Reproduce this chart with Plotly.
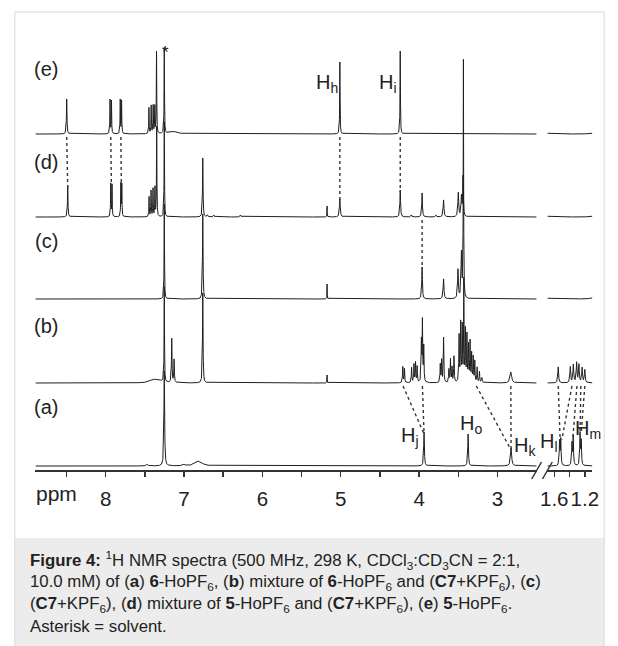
import numpy as np
import plotly.graph_objects as go

W, H = 618, 646
FONT = "Liberation Sans, Arial, sans-serif"
INK = "#1e1e1e"

# ---------------- data: peak lists ----------------
# chemical shift (ppm), intensity (arb.), half width (ppm)
e_ppm = [8.496, 7.943, 7.925, 7.813, 7.796, 7.447, 7.418, 7.393, 7.372, 7.350, 7.251, 7.135, 5.011, 4.241, 1.72, 1.05]
e_int = [35, 34, 33, 34, 33, 26, 28, 28, 27, 82, 86, 2.5, 72, 83, 1.5, 2]
e_wid = [0.004, 0.003, 0.003, 0.003, 0.003, 0.003, 0.003, 0.003, 0.003, 0.003, 0.003, 0.06, 0.003, 0.003, 0.03, 0.04]

d_ppm = [8.483, 7.934, 7.918, 7.805, 7.793, 7.445, 7.42, 7.395, 7.37, 7.348, 7.251, 6.76, 6.70, 6.62, 6.28,
         5.174, 5.011, 4.241, 4.10, 3.962, 3.787, 3.688, 3.50, 3.46, 3.44, 1.72, 1.05]
d_int = [31, 33, 32, 33, 32, 20, 26, 28, 29, 90, 95, 59, 2, 2, 2,
         11, 18, 27, 2, 24, 2, 17, 24, 20, 40, 1.5, 2]
d_wid = [0.004, 0.003, 0.003, 0.003, 0.003, 0.003, 0.003, 0.003, 0.003, 0.003, 0.003, 0.004, 0.006, 0.006, 0.006,
         0.002, 0.006, 0.005, 0.006, 0.005, 0.006, 0.006, 0.006, 0.006, 0.005, 0.03, 0.04]

c_ppm = [7.251, 6.76, 5.174, 3.962, 3.688, 3.504, 3.46, 3.435, 1.72, 1.05]
c_int = [95, 85, 15, 32, 20, 29, 45, 237, 1.5, 3]
c_wid = [0.003, 0.004, 0.002, 0.005, 0.006, 0.006, 0.006, 0.003, 0.03, 0.04]

b_ppm = [7.40, 7.33, 7.251, 7.156, 7.126, 6.76, 5.174,
         4.208, 4.187, 4.096, 4.066, 4.046, 4.025, 3.971, 3.958, 3.941, 3.73, 3.713, 3.688,
         3.62, 3.60, 3.58, 3.555, 3.49, 3.47, 3.45, 3.43, 3.41, 3.39, 3.37, 3.35, 3.33, 3.31,
         3.29, 3.26, 3.23, 3.20, 2.83,
         1.548, 1.39, 1.35, 1.307, 1.277, 1.235, 1.20]
b_int = [2.5, 3, 95, 44, 23, 90, 8,
         16, 14, 15, 18, 20, 16, 40, 60, 35, 18, 22, 45,
         13, 23, 15, 26, 46, 58, 55, 100, 51, 46, 36, 40, 28, 25,
         21, 15, 11, 5, 11,
         16, 16, 18, 20, 18, 15, 13]
b_wid = [0.05, 0.05, 0.003, 0.004, 0.004, 0.004, 0.002,
         0.004, 0.004, 0.004, 0.004, 0.004, 0.004, 0.004, 0.004, 0.004, 0.004, 0.004, 0.004,
         0.004, 0.004, 0.004, 0.004, 0.004, 0.004, 0.004, 0.003, 0.004, 0.004, 0.004, 0.004, 0.004, 0.004,
         0.004, 0.004, 0.004, 0.006, 0.012,
         0.006, 0.006, 0.006, 0.006, 0.006, 0.006, 0.006]

a_ppm = [7.47, 7.251, 7.00, 6.81, 3.937, 3.375, 2.827, 1.530, 1.515, 1.368, 1.352, 1.262, 1.247]
a_int = [2, 95, 1.5, 5, 34, 32, 18, 24, 26, 22, 29, 32, 24]
a_wid = [0.01, 0.005, 0.02, 0.05, 0.005, 0.005, 0.009, 0.005, 0.005, 0.005, 0.005, 0.005, 0.005]

labels = ["(a)", "(b)", "(c)", "(d)", "(e)"]
spectra = {
    "a": (a_ppm, a_int, a_wid),
    "b": (b_ppm, b_int, b_wid),
    "c": (c_ppm, c_int, c_wid),
    "d": (d_ppm, d_int, d_wid),
    "e": (e_ppm, e_int, e_wid),
}
# dotted correlations: (upper spectrum, ppm there, lower spectrum, ppm there)
links = [
    ("e", 8.496, "d", 8.483), ("e", 7.934, "d", 7.926), ("e", 7.805, "d", 7.799),
    ("e", 5.011, "d", 5.011), ("e", 4.241, "d", 4.241),
    ("d", 3.962, "c", 3.962),
    ("b", 4.205, "a", 3.937), ("b", 3.958, "a", 3.937), ("b", 3.27, "a", 2.827), ("b", 2.83, "a", 2.827),
    ("b", 1.548, "a", 1.523), ("b", 1.368, "a", 1.50), ("b", 1.303, "a", 1.355),
    ("b", 1.252, "a", 1.262), ("b", 1.20, "a", 1.247),
]
major_left = [8, 7, 6, 5, 4, 3]
minor_left = [8.5, 7.5, 6.5, 5.5, 4.5, 3.5]
ticks_right = [1.6, 1.4, 1.2]
ticktext_right = ["1.6", "", "1.2"]

# ---------------- layout constants ----------------
offset = {"a": 4, "b": 87, "c": 171, "d": 253, "e": 336}
LEFT_RANGE = [8.8955, 2.501]
RIGHT_RANGE = [1.69, 1.10]


def px(x):
    return x / W


def py(y):
    return 1 - y / H


def curve(ppms, ints, wids, grid):
    y = np.zeros_like(grid)
    for p, h, w in zip(ppms, ints, wids):
        y += h * w ** 2 / ((grid - p) ** 2 + w ** 2)
    return y


grid_l = np.arange(LEFT_RANGE[1], LEFT_RANGE[0], 0.001)
grid_r = np.arange(RIGHT_RANGE[1], RIGHT_RANGE[0], 0.001)

fig = go.Figure()
for key, (pp, ii, ww) in spectra.items():
    for grid, xa in ((grid_l, "x"), (grid_r, "x2")):
        fig.add_trace(go.Scatter(x=grid, y=curve(pp, ii, ww, grid) + offset[key], xaxis=xa, yaxis="y",
                                 mode="lines", line=dict(color=INK, width=1), hoverinfo="skip",
                                 showlegend=False))

for up, p_up, lo, p_lo in links:
    pp, ii, ww = spectra[lo]
    win = np.linspace(p_lo - 0.015, p_lo + 0.015, 61)
    top = curve(pp, ii, ww, win).max() + offset[lo] - 2
    xa = "x2" if p_up < 2 else "x"
    fig.add_trace(go.Scatter(x=[p_up, p_lo], y=[offset[up] - 3, top], xaxis=xa, yaxis="y",
                             mode="lines", line=dict(color="#333", width=1.4, dash="dot"),
                             hoverinfo="skip", showlegend=False))

axis_common = dict(showgrid=False, zeroline=False, showline=True, linecolor="#333", linewidth=2,
                   ticks="outside", ticklen=5, tickwidth=1.5, tickcolor="#333",
                   tickfont=dict(family=FONT, size=20.5, color="#222"), anchor="y",
                   ticklabelstandoff=4)
fig.update_layout(
    width=W, height=H, margin=dict(l=0, r=0, t=0, b=0),
    paper_bgcolor="white", plot_bgcolor="rgba(0,0,0,0)",
    xaxis=dict(domain=[px(29), px(541)], range=LEFT_RANGE, tickvals=major_left,
               ticktext=[str(v) for v in major_left],
               minor=dict(tickvals=minor_left, ticks="outside", ticklen=5, tickwidth=1.5, tickcolor="#333"),
               **axis_common),
    xaxis2=dict(domain=[px(552), px(598)], range=RIGHT_RANGE, tickvals=ticks_right,
                ticktext=ticktext_right, **axis_common),
    yaxis=dict(domain=[py(470), py(40)], range=[0, 430], visible=False),
)

shapes = [
    dict(type="rect", xref="paper", yref="paper", x0=px(8), x1=px(610), y0=py(538), y1=py(650),
         fillcolor="#ececec", line=dict(width=0), layer="below"),
    dict(type="rect", xref="paper", yref="paper", x0=px(8), x1=px(610), y0=py(12), y1=py(650),
         fillcolor="rgba(0,0,0,0)", line=dict(color="#d9d9d9", width=1), layer="below"),
    dict(type="line", xref="paper", yref="paper", x0=px(536), x1=px(546), y0=py(479), y1=py(462),
         line=dict(color="#333", width=1.5)),
    dict(type="line", xref="paper", yref="paper", x0=px(547), x1=px(557), y0=py(479), y1=py(462),
         line=dict(color="#333", width=1.5)),
]
fig.update_layout(shapes=shapes)

ann = []


def add(text, x, y, size, xanchor="center", color="#222"):
    ann.append(dict(text=text, x=px(x), y=py(y), xref="paper", yref="paper", showarrow=False,
                    xanchor=xanchor, yanchor="middle", font=dict(family=FONT, size=size, color=color)))


label_y = {"(e)": 69, "(d)": 162, "(c)": 241, "(b)": 326, "(a)": 407}
for lab in labels:
    add(lab, 40, label_y[lab], 20)
add("ppm", 51, 494, 21)
add("*", 162, 52, 17)
add("H<sub>h</sub>", 327, 83, 20)
add("H<sub>i</sub>", 389, 83, 20)
add("H<sub>j</sub>", 412, 436, 20)
add("H<sub>o</sub>", 474, 424, 20)
add("H<sub>k</sub>", 529, 446, 20)
add("H<sub>l</sub>", 554, 442, 20)
add("H<sub>m</sub>", 593, 429, 20)

cap = [
    "<b>Figure 4:</b> <sup>1</sup>H NMR spectra (500 MHz, 298 K, CDCl<sub>3</sub>:CD<sub>3</sub>CN = 2:1,",
    "10.0 mM) of (<b>a</b>) <b>6</b>-HoPF<sub>6</sub>, (<b>b</b>) mixture of <b>6</b>-HoPF<sub>6</sub> and (<b>C7</b>+KPF<sub>6</sub>), (<b>c</b>)",
    "(<b>C7</b>+KPF<sub>6</sub>), (<b>d</b>) mixture of <b>5</b>-HoPF<sub>6</sub> and (<b>C7</b>+KPF<sub>6</sub>), (<b>e</b>) <b>5</b>-HoPF<sub>6</sub>.",
    "Asterisk = solvent.",
]
for i, line in enumerate(cap):
    add(line, 21, 560 + 22 * i, 16.8, xanchor="left", color="#222")

fig.update_layout(annotations=ann)
fig.write_html("out.html", config={"displayModeBar": False, "staticPlot": True})

# remove the default page margin so the figure sits at the window origin
with open("out.html", encoding="utf-8") as f:
    html = f.read()
html = html.replace("<head>", "<head><style>html,body{margin:0;padding:0;overflow:hidden}</style>", 1)
with open("out.html", "w", encoding="utf-8") as f:
    f.write(html)
